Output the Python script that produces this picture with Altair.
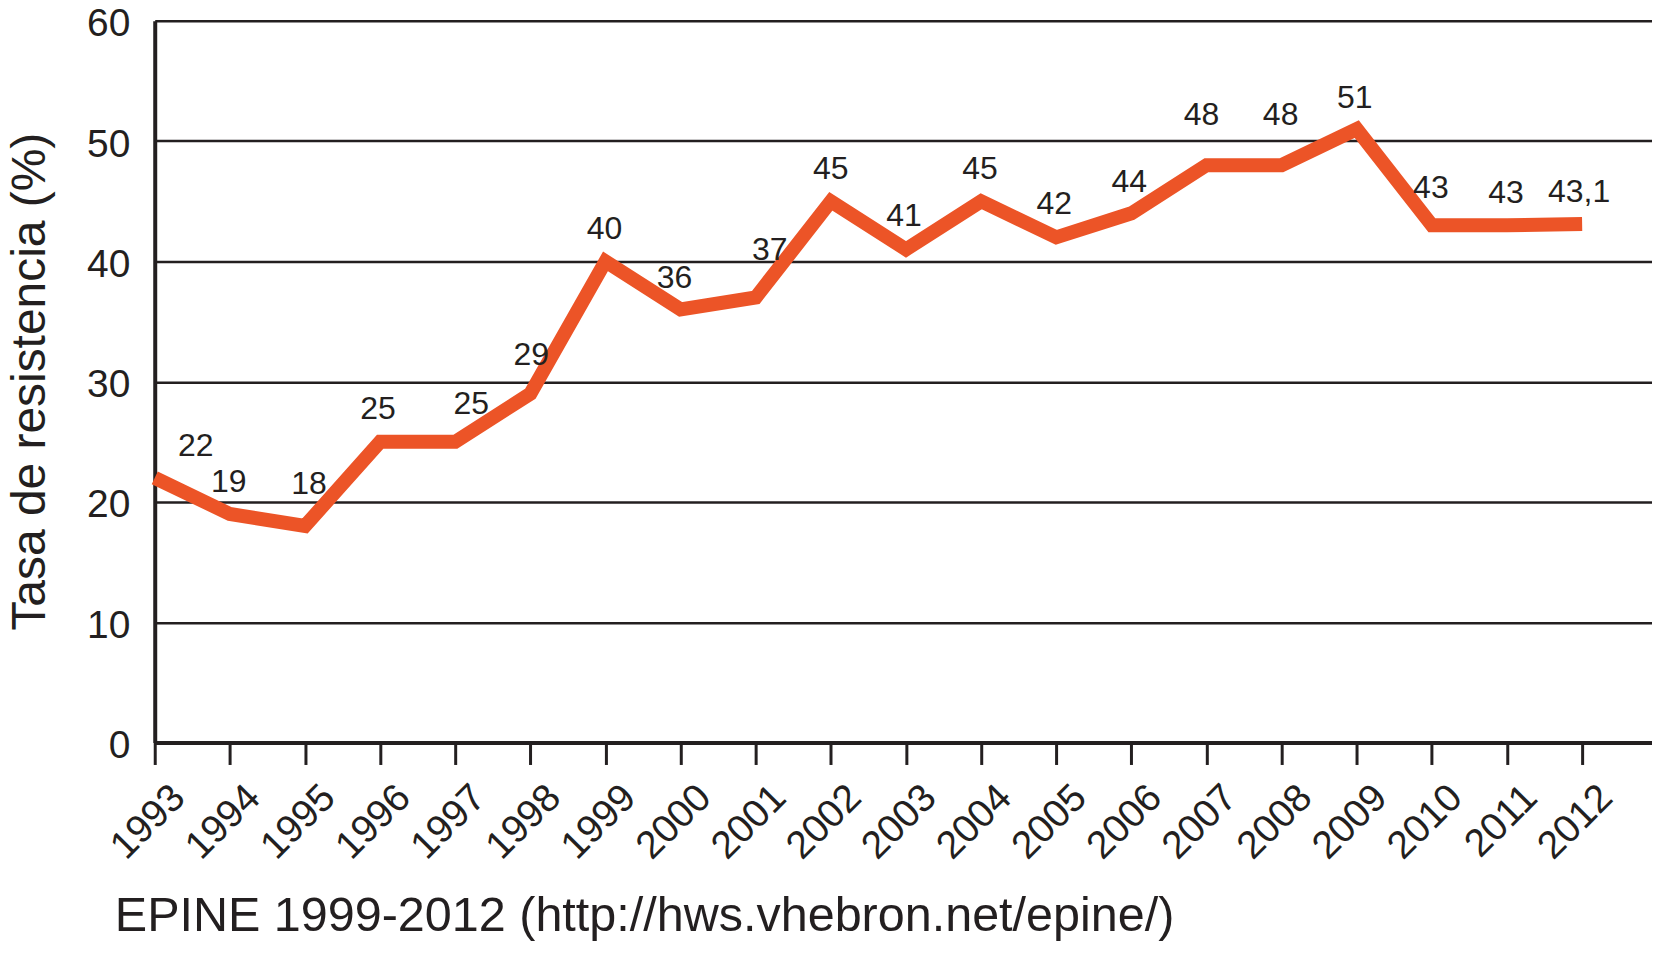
import altair as alt
import pandas as pd

years = list(range(1993, 2013))
rates = [22, 19, 18, 25, 25, 29, 40, 36, 37, 45, 41, 45, 42, 44, 48, 48, 51, 43, 43, 43.1]
labels = ["22", "19", "18", "25", "25", "29", "40", "36", "37", "45",
          "41", "45", "42", "44", "48", "48", "51", "43", "43", "43,1"]
# pixel offsets of each value label from its point (style)
label_dx = [41, -1, 4, -2, 16, 1, -1, -6, 14, 0, -2, -1, -2, -2, -5, -1, -2, -1, -1, -3]
label_dy = [-32, -32, -42, -33, -38, -39, -32, -32, -48, -32, -33, -32, -33, -31, -50, -50, -31, -37, -32, -32]
y_ticks = [0, 10, 20, 30, 40, 50, 60]
y_title = "Tasa de resistencia (%)"
source_note = "EPINE 1999-2012 (http://hws.vhebron.net/epine/)"

FONT = "Liberation Sans"
INK = "#231f20"
ORANGE = "#ec5427"

W, H = 1500, 723
X_DOMAIN = [1993, 2012.93]
Y_DOMAIN = [0, 60]
PX_PER_YEAR = W / (X_DOMAIN[1] - X_DOMAIN[0])
PX_PER_UNIT = H / (Y_DOMAIN[1] - Y_DOMAIN[0])

df = pd.DataFrame({"year": years, "rate": rates, "label": labels,
                   "dx": label_dx, "dy": label_dy})

x_scale = alt.Scale(domain=X_DOMAIN, nice=False, zero=False)
y_scale = alt.Scale(domain=Y_DOMAIN, nice=False)

x_axis = alt.Axis(values=years, format="d", labelAngle=-45, labelAlign="right",
                  labelBaseline="top", tickSize=22, tickWidth=3, tickColor=INK,
                  domainWidth=4, domainColor=INK, labelFontSize=39, labelFont=FONT,
                  labelColor=INK, labelPadding=13, labelOffset=10, grid=False,
                  title=None, labelOverlap=False)
y_axis = alt.Axis(values=y_ticks, grid=True, gridColor=INK, gridWidth=2.5,
                  ticks=False, tickSize=0, domainWidth=4, domainColor=INK,
                  labelFontSize=39, labelFont=FONT, labelColor=INK, labelPadding=25,
                  labelOffset=3,
                  title=y_title, titleFontSize=48, titleFont=FONT,
                  titleFontWeight="normal", titleColor=INK, titleX=-110, titleY=361,
                  titleAngle=-90, titleBaseline="alphabetic", titleAlign="center")

base = alt.Chart(df)

line = base.mark_line(color=ORANGE, strokeWidth=14, strokeCap="butt",
                      strokeJoin="miter").encode(
    x=alt.X("year:Q", scale=x_scale, axis=x_axis),
    y=alt.Y("rate:Q", scale=y_scale, axis=y_axis),
)

text = base.transform_calculate(
    lx=f"datum.year + datum.dx / {PX_PER_YEAR}",
    ly=f"datum.rate - datum.dy / {PX_PER_UNIT}",
).mark_text(font=FONT, fontSize=32, color=INK, align="center",
            baseline="middle").encode(
    x=alt.X("lx:Q", scale=x_scale),
    y=alt.Y("ly:Q", scale=y_scale),
    text="label:N",
)

note = alt.Chart(pd.DataFrame({"t": [source_note]})).mark_text(
    font=FONT, fontSize=48.6, color=INK, align="left", baseline="alphabetic"
).encode(x=alt.value(-40), y=alt.value(912), text="t:N")

chart = alt.layer(line, text, note).properties(
    width=W, height=H,
    padding={"left": 147, "top": 12, "right": 0, "bottom": 200},
    autosize=alt.AutoSizeParams(type="none"),
).configure_view(stroke=None).configure(background="white")

chart.save("out.html", embed_options={"renderer": "svg", "actions": False})
